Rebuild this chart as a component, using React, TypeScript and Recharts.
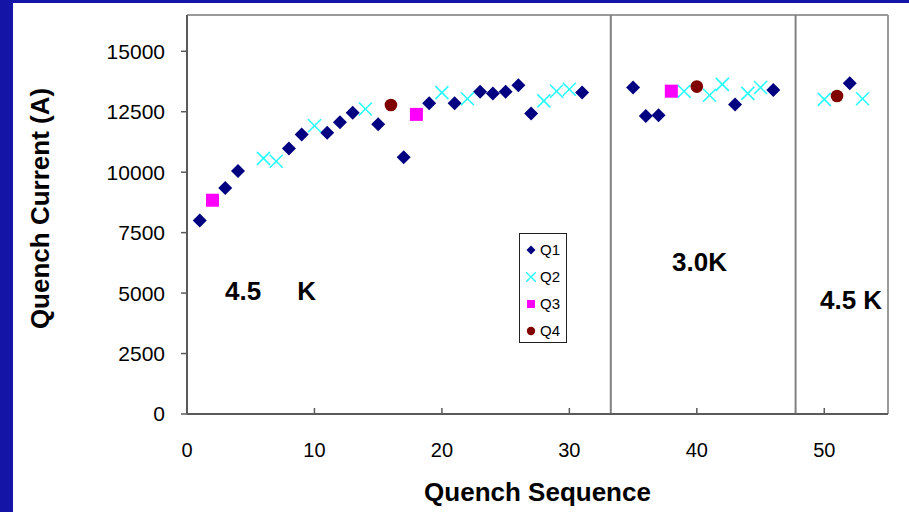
import React from "react"
import {
  ScatterChart,
  Scatter,
  XAxis,
  YAxis,
  ReferenceLine,
  Legend,
  Label,
} from "recharts"

// quench number vs. quench current, split by quadrant
const q1Seq = [1, 3, 4, 8, 9, 11, 12, 13, 15, 17, 19, 21, 23, 24, 25, 26, 27, 31, 35, 36, 37, 43, 46, 52]
const q1Current = [8000, 9350, 10050, 10980, 11560, 11630, 12070, 12460, 11980, 10620, 12850, 12850, 13330, 13250, 13330, 13600, 12430, 13290, 13500, 12320, 12350, 12800, 13400, 13680]

const q2Seq = [6, 7, 10, 14, 20, 22, 28, 29, 30, 39, 41, 42, 44, 45, 50, 53]
const q2Current = [10570, 10450, 11920, 12610, 13290, 13040, 12950, 13350, 13430, 13350, 13180, 13630, 13260, 13500, 13010, 13040]

const q3Seq = [2, 18, 38]
const q3Current = [8840, 12390, 13350]

const q4Seq = [16, 40, 51]
const q4Current = [12780, 13540, 13150]

const xTicks = [0, 10, 20, 30, 40, 50]
const yTicks = [0, 2500, 5000, 7500, 10000, 12500, 15000]
const tempBreaks = [33.25, 47.75]

const toPoints = (xs: number[], ys: number[]) => xs.map((x, i) => ({ x, y: ys[i] }))

const FONT = '"Liberation Sans", Arial, sans-serif'
const AXIS = "#5a5a5a"
const BORDER = "#9a9a9a"

const NAVY = "#000080"
const CYAN = "#22ffff"
const MAGENTA = "#ff00ff"
const MAROON = "#800000"

const diamond = (p: any) => (
  <polygon
    points={`${p.cx},${p.cy - 7} ${p.cx + 7},${p.cy} ${p.cx},${p.cy + 7} ${p.cx - 7},${p.cy}`}
    fill={NAVY}
  />
)
const cross = (p: any) => (
  <g stroke={CYAN} strokeWidth={1.5}>
    <line x1={p.cx - 6.5} y1={p.cy - 6.5} x2={p.cx + 6.5} y2={p.cy + 6.5} />
    <line x1={p.cx - 6.5} y1={p.cy + 6.5} x2={p.cx + 6.5} y2={p.cy - 6.5} />
  </g>
)
const square = (p: any) => <rect x={p.cx - 6.5} y={p.cy - 6.5} width={13} height={13} fill={MAGENTA} />
const dot = (p: any) => <circle cx={p.cx} cy={p.cy} r={6.3} fill={MAROON} />

const legendMarks: Record<string, React.ReactNode> = {
  Q1: <polygon points="5,0.5 9.5,5 5,9.5 0.5,5" fill={NAVY} />,
  Q2: (
    <g stroke={CYAN} strokeWidth={1.3}>
      <line x1={0} y1={0} x2={10} y2={10} />
      <line x1={0} y1={10} x2={10} y2={0} />
    </g>
  ),
  Q3: <rect x={1} y={1} width={8} height={8} fill={MAGENTA} />,
  Q4: <circle cx={5} cy={5} r={4.2} fill={MAROON} />,
}

function LegendBox() {
  return (
    <div
      style={{
        border: "1px solid #222",
        background: "#fff",
        width: 48,
        height: 110,
        boxSizing: "border-box",
        paddingTop: 2,
        fontFamily: FONT,
      }}
    >
      {["Q1", "Q2", "Q3", "Q4"].map((name) => (
        <div key={name} style={{ display: "flex", alignItems: "center", height: 27 }}>
          <svg width={10} height={10} style={{ marginLeft: 6, marginRight: 4 }}>
            {legendMarks[name]}
          </svg>
          <span style={{ fontSize: 15, color: "#000" }}>{name}</span>
        </div>
      ))}
    </div>
  )
}

function XTick(props: any) {
  const { x, y, payload } = props
  return (
    <g>
      <line x1={x} x2={x} y1={y} y2={y - 6} stroke={AXIS} strokeWidth={1.5} />
      <text x={x} y={y + 43} textAnchor="middle" fontSize={20} fill="#000">
        {payload.value}
      </text>
    </g>
  )
}

const YTitle = (props: any) => {
  const { x, y, height } = props.viewBox
  const cx = x + 27
  const cy = y + height / 2 - 6
  return (
    <text
      x={cx}
      y={cy}
      transform={`rotate(-90 ${cx} ${cy})`}
      textAnchor="middle"
      dominantBaseline="central"
      fontSize={26}
      fontWeight="bold"
      fill="#000"
    >
      Quench Current (A)
    </text>
  )
}

const XTitle = (props: any) => {
  const { x, y, width } = props.viewBox
  return (
    <text x={x + width / 2} y={y + 87} textAnchor="middle" fontSize={26} fontWeight="bold" fill="#000">
      Quench Sequence
    </text>
  )
}

const tempLabel = (left: number, top: number): React.CSSProperties => ({
  position: "absolute",
  left,
  top,
  fontSize: 26,
  lineHeight: "26px",
  fontWeight: "bold",
  whiteSpace: "pre",
  color: "#000",
})

export default function App() {
  return (
    <div
      style={{
        position: "absolute",
        left: 0,
        top: 0,
        width: 909,
        height: 512,
        background: "#1414a6",
        fontFamily: FONT,
        overflow: "hidden",
      }}
    >
      <div style={{ position: "absolute", left: 13, top: 3, width: 896, height: 509, background: "#fff" }}>
        <ScatterChart width={896} height={509} margin={{ top: 12, right: 21, bottom: 0, left: 0 }}>
          <XAxis
            type="number"
            dataKey="x"
            domain={[0, 55]}
            ticks={xTicks}
            height={98}
            tickSize={0}
            tickMargin={0}
            tickLine={false}
            tick={<XTick />}
            axisLine={{ stroke: AXIS, strokeWidth: 2 }}
          >
            <Label content={XTitle} />
          </XAxis>
          <YAxis
            type="number"
            dataKey="y"
            domain={[0, 16500]}
            ticks={yTicks}
            width={174}
            tickSize={6}
            tickMargin={16}
            tick={{ fontSize: 21, fill: "#000" }}
            tickLine={{ stroke: AXIS, strokeWidth: 1.5 }}
            axisLine={{ stroke: AXIS, strokeWidth: 2 }}
          >
            <Label content={YTitle} />
          </YAxis>
          <ReferenceLine y={16500} stroke={BORDER} strokeWidth={2} />
          <ReferenceLine x={55} stroke={BORDER} strokeWidth={2} />
          {tempBreaks.map((b) => (
            <ReferenceLine key={b} x={b} stroke="#808080" strokeWidth={2} />
          ))}
          <Scatter name="Q1" data={toPoints(q1Seq, q1Current)} shape={diamond} isAnimationActive={false} />
          <Scatter name="Q2" data={toPoints(q2Seq, q2Current)} shape={cross} isAnimationActive={false} />
          <Scatter name="Q3" data={toPoints(q3Seq, q3Current)} shape={square} isAnimationActive={false} />
          <Scatter name="Q4" data={toPoints(q4Seq, q4Current)} shape={dot} isAnimationActive={false} />
          <Legend
            layout="vertical"
            align="center"
            verticalAlign="middle"
            content={LegendBox}
            wrapperStyle={{ left: 506, top: 230, width: 48 }}
          />
        </ScatterChart>
        <div style={tempLabel(212, 275)}>{"4.5     K"}</div>
        <div style={tempLabel(659, 246)}>3.0K</div>
        <div style={tempLabel(807, 284)}>{"4.5 K"}</div>
      </div>
    </div>
  )
}
